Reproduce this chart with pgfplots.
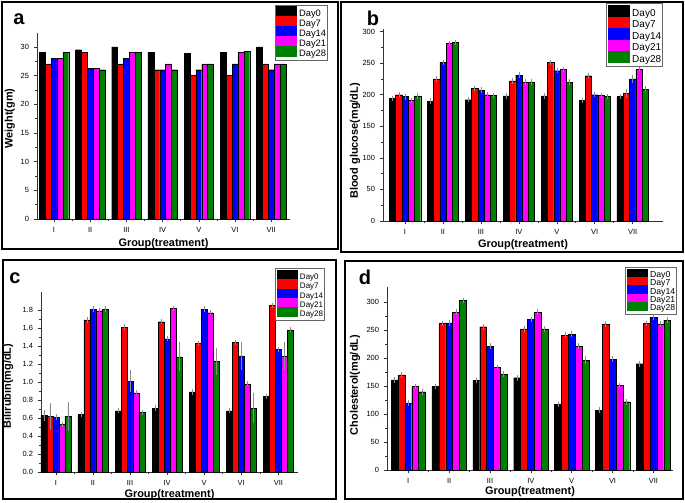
\documentclass[border=0pt]{standalone}
\usepackage{fontspec}
\setmainfont{Liberation Sans}
\usepackage{pgfplots}
\usepackage{pgfplotstable}
\pgfplotsset{compat=1.18}

\definecolor{cblack}{RGB}{0,0,0}
\definecolor{cred}{RGB}{255,0,0}
\definecolor{cblue}{RGB}{0,0,255}
\definecolor{cmag}{RGB}{255,0,255}
\definecolor{dgreen}{RGB}{0,128,0}

\pgfplotstableread{
x d0 d7 d14 d21 d28
0 29 27 28 28 29
1 29.5 29 26.2 26.2 26
2 30 27 28 29 29
3 29 26 26 27 26
4 28.9 25 26 27 27
5 29 25 27 29 29.2
6 30 27 26 27 27
}\tabA

\pgfplotstableread{
x d0 e0 d7 e7 d14 e14 d21 e21 d28 e28
0 194 1.5 200 1.5 197 2 191 1.5 198 1.5
1 190 1.5 225 2 251 1.5 281 1.5 283 1.5
2 192 1.5 210 1.5 207 2 200 1.5 199 1.5
3 198 1.5 222 2 231 1.5 220 1.5 220 1.5
4 198 1.5 251 1.5 238 1.5 240 1.5 220 1.5
5 191 1.5 230 1.5 200 1.5 199 1.5 197 1.5
6 197 1.5 202 4 225 3 240 1.5 209 1.5
}\tabB

\pgfplotstableread{
x d0 e0 d7 e7 d14 e14 d21 e21 d28 e28
0 0.63 0.04 0.62 0.13 0.61 0.01 0.53 0.01 0.62 0.14
1 0.64 0.01 1.69 0.01 1.81 0.01 1.79 0.01 1.81 0.01
2 0.68 0.01 1.61 0.01 1.01 0.10 0.88 0.01 0.66 0.01
3 0.71 0.01 1.67 0.01 1.48 0.01 1.82 0.01 1.28 0.14
4 0.89 0.01 1.43 0.01 1.81 0.01 1.77 0.01 1.23 0.13
5 0.68 0.01 1.44 0.01 1.29 0.14 0.98 0.01 0.71 0.15
6 0.84 0.01 1.85 0.01 1.36 0.01 1.29 0.14 1.58 0.01
}\tabC

\pgfplotstableread{
x d0 e0 d7 e7 d14 e14 d21 e21 d28 e28
0 161 2 170 2 120 2 149 2 140 2
1 149 2 262 2 263 2 282 2 303 2
2 160 2 256 2 221 2 183 2 171 2
3 165 2 252 2 269 2 282 2 252 2
4 117 2 241 2 243 2 221 2 196 4
5 107 2 261 2 198 2 151 2 122 2
6 190 2 262 2 273 2 261 2 268 2
}\tabD

\pgfplotsset{
  panel/.style={
    scale only axis,
    ybar=0pt,
    axis x line*=bottom,
    axis y line*=left,
    axis line style={line width=0.5pt, black!80},
    xtick={0,...,6},
    xticklabels={I,II,III,IV,V,VI,VII},
    minor x tick num=1,
    minor y tick num=1,
    tick align=outside,
    major tick length=2.5pt,
    minor tick length=1.5pt,
    tick style={line width=0.4pt, black!80},
    ymin=0,
    /pgf/number format/assume math mode=true,
    tick label style={font=\fontsize{5.6}{6.5}\selectfont},
    label style={font=\bfseries\fontsize{8.2}{9}\selectfont},
    xlabel={Group(treatment)},
    every axis plot/.append style={draw=black, line width=0.2pt},
    legend cell align=left,
    legend style={draw=black!60, line width=0.4pt, anchor=north east,
      inner sep=1.2pt, row sep=-1.5pt, column sep=1.5pt},
    error bars/y dir=both,
    error bars/y explicit,
    error bars/error bar style={black!45, line width=0.35pt},
    error bars/error mark options={black!45, mark size=1.3pt, line width=0.35pt},
  },
}

\begin{document}
\begin{tikzpicture}
\path[use as bounding box] (0pt,0pt) rectangle (513.75pt,-377.25pt);

% frames
\draw[line width=1.5pt] (1.5pt,-1.5pt) rectangle (253.5pt,-187pt);
\draw[line width=1.5pt] (255.75pt,-1.5pt) rectangle (512.25pt,-189pt);
\draw[line width=1.5pt] (2.25pt,-195pt) rectangle (252pt,-374.5pt);
\draw[line width=1.5pt] (258.75pt,-195.75pt) rectangle (512.25pt,-374.5pt);

% panel a
\begin{axis}[panel, at={(27.75pt,-164.25pt)}, anchor=south west,
  width=189.75pt, height=139.5pt, bar width=0.162,
  xmin=-0.47, xmax=6.52, ymax=32.4, ytick={0,5,...,30},
  ylabel={Weight(gm)},
  ylabel style={at={(axis description cs:-0.107,0.54)}, anchor=center},
  xlabel style={at={(axis description cs:0.5,-0.13)}, anchor=center},
  legend style={at={(1.15,1.153)}, font=\fontsize{7}{8}\selectfont,
    nodes={inner sep=0pt, text height=5.2pt, text depth=1.6pt}},
  legend image code/.code={\fill[#1, draw=none] (0pt,-2pt) rectangle (15.5pt,5.6pt);}]
\addplot[fill=cblack] table[x=x,y=d0] {\tabA};
\addplot[fill=cred] table[x=x,y=d7] {\tabA};
\addplot[fill=cblue] table[x=x,y=d14] {\tabA};
\addplot[fill=cmag] table[x=x,y=d21] {\tabA};
\addplot[fill=dgreen] table[x=x,y=d28] {\tabA};
\legend{Day0,Day7,Day14,Day21,Day28}
\end{axis}

% panel b
\begin{axis}[panel, at={(287.25pt,-165.75pt)}, anchor=south west,
  width=210pt, height=144pt, bar width=0.165,
  xmin=-0.58, xmax=6.8, ymax=304, ytick={0,50,...,300},
  ylabel={Blood glucose(mg/dL)},
  ylabel style={at={(axis description cs:-0.1,0.417)}, anchor=center},
  xlabel style={at={(axis description cs:0.5,-0.122)}, anchor=center},
  legend style={at={(1.0,1.135)}, font=\fontsize{7.5}{8}\selectfont,
    nodes={inner sep=0pt, text height=5.6pt, text depth=1.8pt}},
  legend image code/.code={\fill[#1, draw=none] (0pt,-2.5pt) rectangle (16.5pt,6.5pt);}]
\addplot[fill=cblack] table[x=x,y=d0,y error=e0] {\tabB};
\addplot[fill=cred] table[x=x,y=d7,y error=e7] {\tabB};
\addplot[fill=cblue] table[x=x,y=d14,y error=e14] {\tabB};
\addplot[fill=cmag] table[x=x,y=d21,y error=e21] {\tabB};
\addplot[fill=dgreen] table[x=x,y=d28,y error=e28] {\tabB};
\legend{Day0,Day7,Day14,Day21,Day28}
\end{axis}

% panel c
\begin{axis}[panel, at={(30.75pt,-354pt)}, anchor=south west,
  width=192.75pt, height=135pt, bar width=0.161,
  xmin=-0.4, xmax=6.53, ymax=2.0, ytick={0,0.2,...,1.81},
  yticklabel style={/pgf/number format/.cd, fixed, fixed zerofill, precision=1},
  ylabel={Bilirubin(mg/dL)},
  ylabel style={at={(axis description cs:-0.128,0.478)}, anchor=center},
  xlabel style={at={(axis description cs:0.5,-0.125)}, anchor=center},
  legend style={at={(1.105,1.133)}, font=\fontsize{6}{7}\selectfont,
    nodes={inner sep=0pt, text height=4.6pt, text depth=1.4pt}},
  legend image code/.code={\fill[#1, draw=none] (0pt,-2pt) rectangle (16pt,5.5pt);}]
\addplot[fill=cblack] table[x=x,y=d0,y error=e0] {\tabC};
\addplot[fill=cred] table[x=x,y=d7,y error=e7] {\tabC};
\addplot[fill=cblue] table[x=x,y=d14,y error=e14] {\tabC};
\addplot[fill=cmag] table[x=x,y=d21,y error=e21] {\tabC};
\addplot[fill=dgreen] table[x=x,y=d28,y error=e28] {\tabC};
\legend{Day0,Day7,Day14,Day21,Day28}
\end{axis}

% panel d
\begin{axis}[panel, at={(290.25pt,-352.5pt)}, anchor=south west,
  width=214.5pt, height=137.25pt, bar width=0.168,
  xmin=-0.52, xmax=6.48, ymax=327, ytick={0,50,...,300},
  ylabel={Cholesterol(mg/dL)},
  ylabel style={at={(axis description cs:-0.112,0.464)}, anchor=center},
  xlabel style={at={(axis description cs:0.5,-0.12)}, anchor=center},
  legend style={at={(1.014,1.109)}, font=\fontsize{6.5}{7}\selectfont, row sep=-2pt,
    nodes={inner sep=0pt, text height=4.8pt, text depth=1.5pt}},
  legend image code/.code={\fill[#1, draw=none] (0pt,-1.75pt) rectangle (16pt,5pt);}]
\addplot[fill=cblack] table[x=x,y=d0,y error=e0] {\tabD};
\addplot[fill=cred] table[x=x,y=d7,y error=e7] {\tabD};
\addplot[fill=cblue] table[x=x,y=d14,y error=e14] {\tabD};
\addplot[fill=cmag] table[x=x,y=d21,y error=e21] {\tabD};
\addplot[fill=dgreen] table[x=x,y=d28,y error=e28] {\tabD};
\legend{Day0,Day7,Day14,Day21,Day28}
\end{axis}

% panel letters
\node[font=\bfseries\fontsize{15}{16}\selectfont] at (14.25pt,-14.25pt) {a};
\node[font=\bfseries\fontsize{15}{16}\selectfont] at (279.75pt,-13.5pt) {b};
\node[font=\bfseries\fontsize{15}{16}\selectfont] at (11.25pt,-208.5pt) {c};
\node[font=\bfseries\fontsize{15}{16}\selectfont] at (273.75pt,-207.75pt) {d};
\end{tikzpicture}
\end{document}
